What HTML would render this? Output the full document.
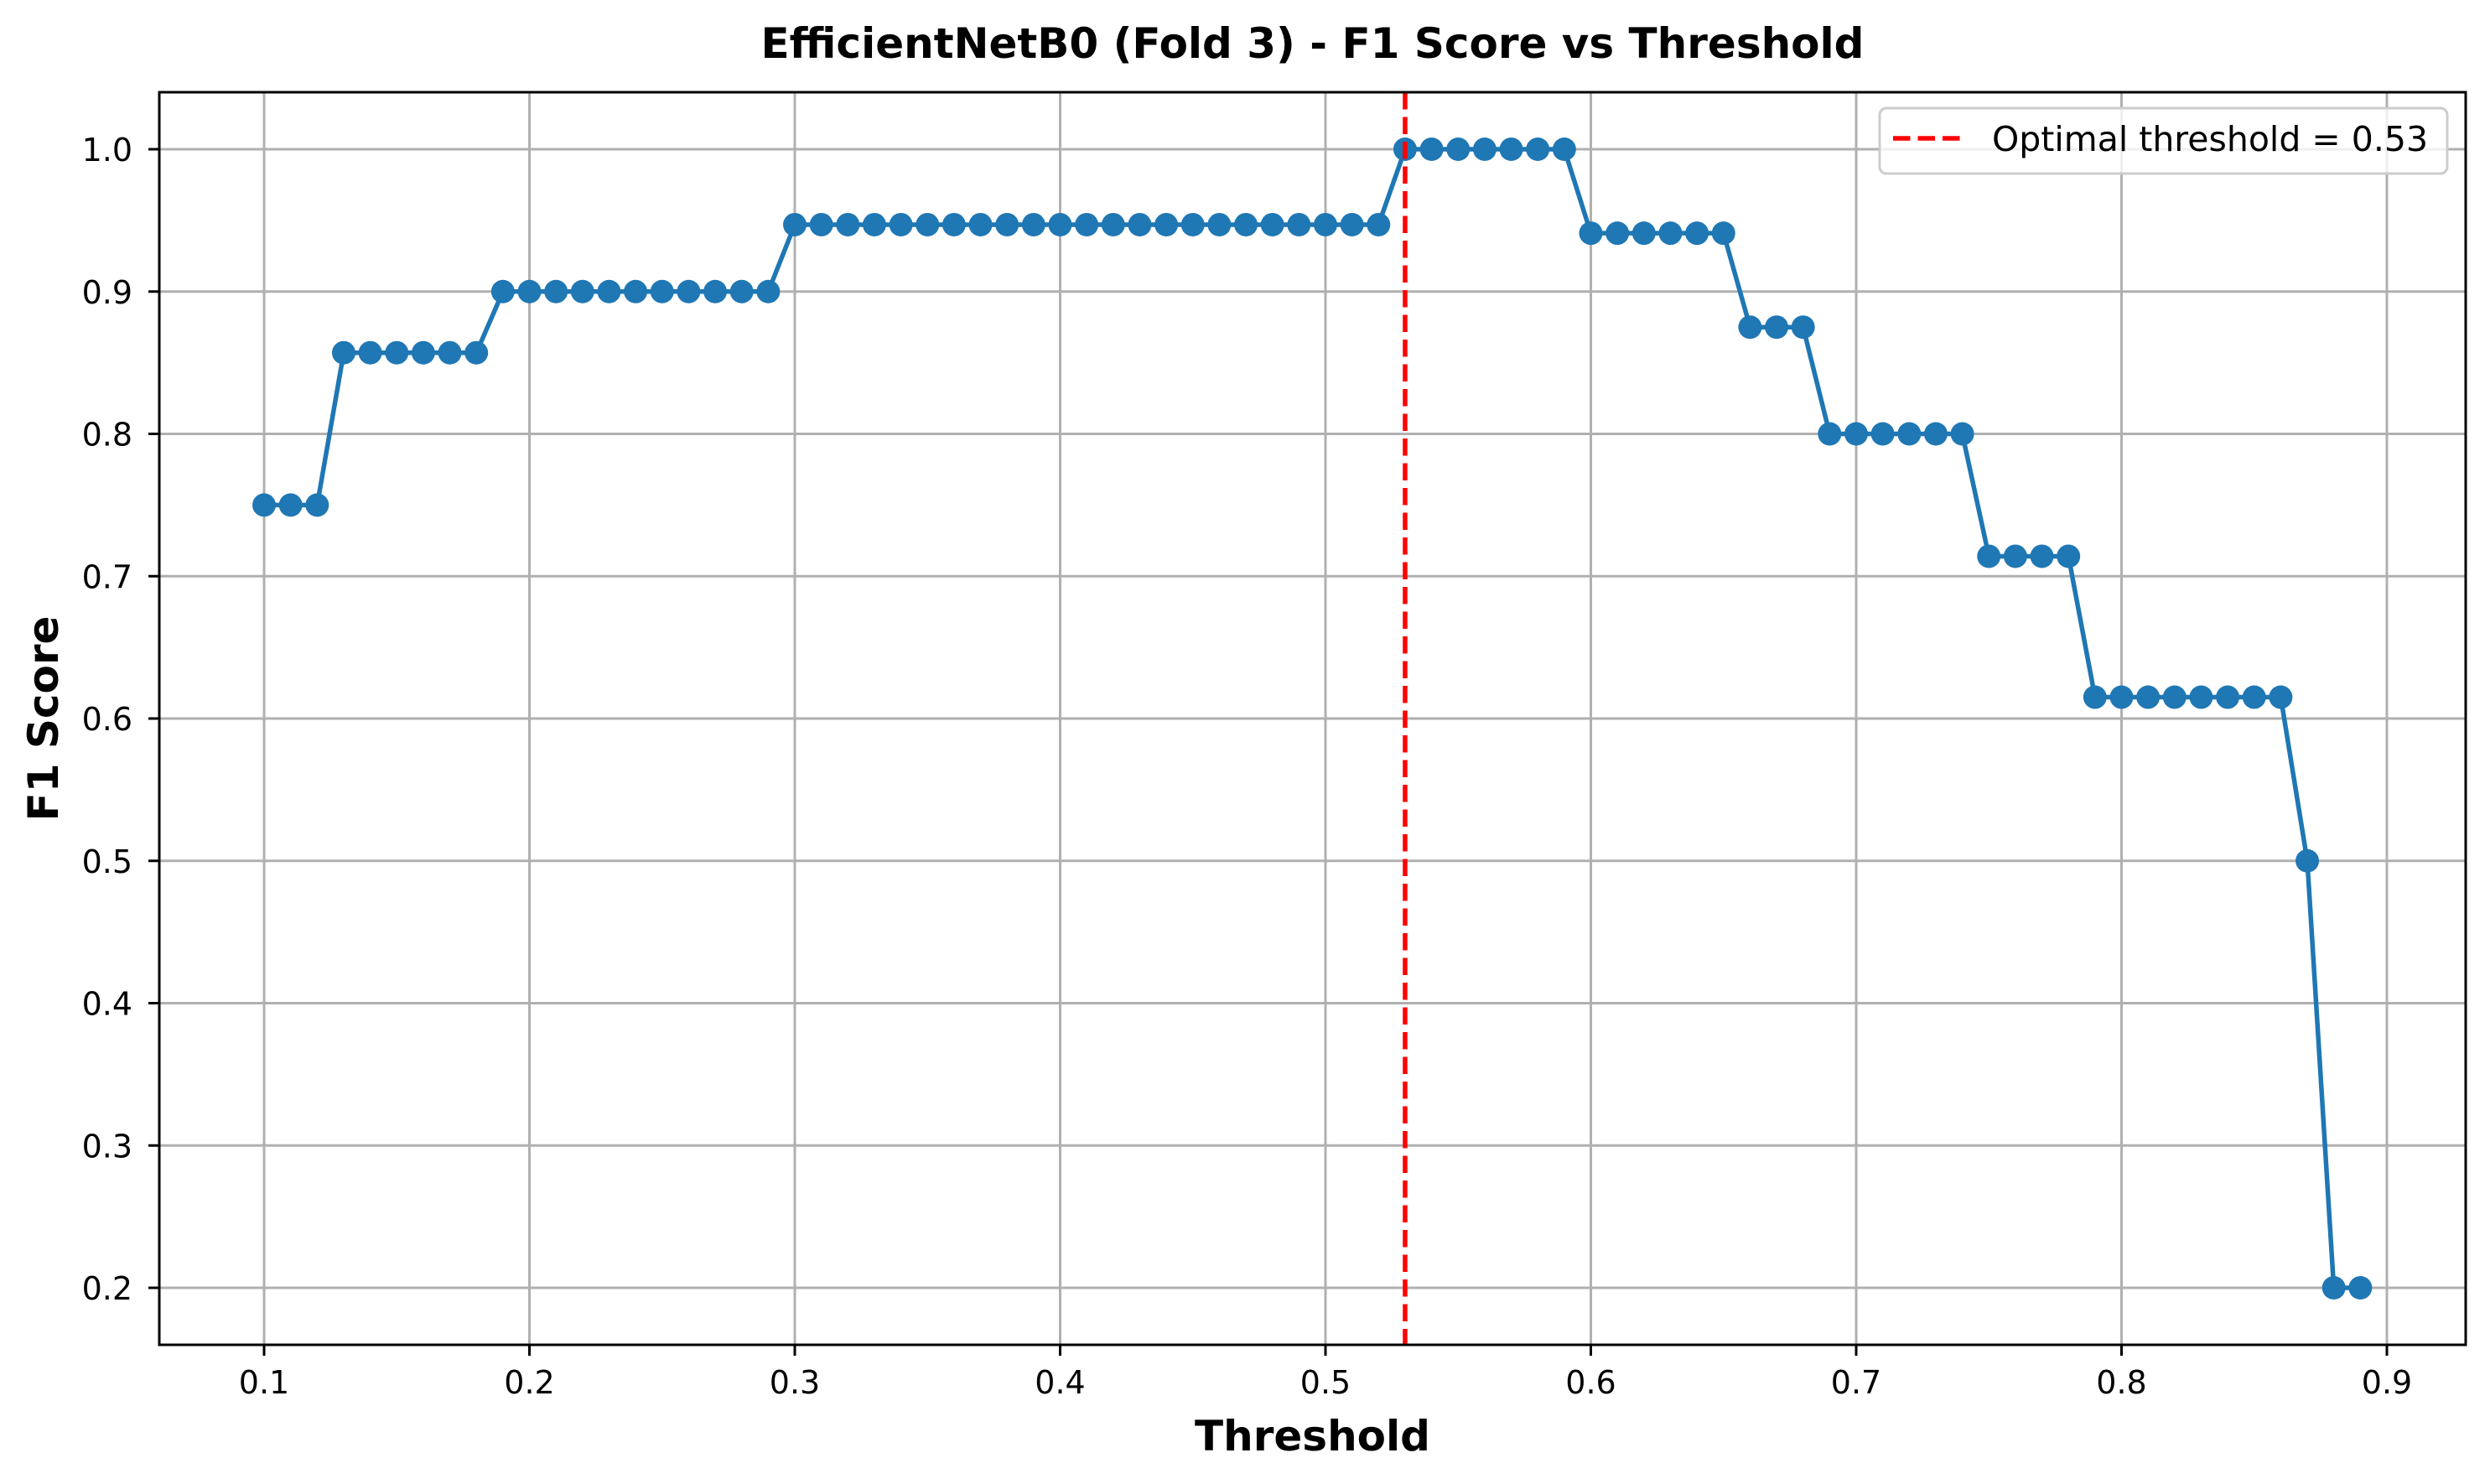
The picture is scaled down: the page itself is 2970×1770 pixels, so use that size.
<!DOCTYPE html>
<html><head><meta charset="utf-8"><style>body{margin:0;background:#fff}svg{display:block;font-family:"DejaVu Sans","Liberation Sans",sans-serif}</style></head>
<body>
<svg id="chart" width="2970" height="1770" xmlns="http://www.w3.org/2000/svg">
<rect width="2970" height="1770" fill="#fff"/>
<g id="grid"></g><g id="series"></g><g id="axes"></g>
</svg>
<script>
const thresholds=[0.10,0.11,0.12,0.13,0.14,0.15,0.16,0.17,0.18,0.19,0.20,0.21,0.22,0.23,0.24,0.25,0.26,0.27,0.28,0.29,0.30,0.31,0.32,0.33,0.34,0.35,0.36,0.37,0.38,0.39,0.40,0.41,0.42,0.43,0.44,0.45,0.46,0.47,0.48,0.49,0.50,0.51,0.52,0.53,0.54,0.55,0.56,0.57,0.58,0.59,0.60,0.61,0.62,0.63,0.64,0.65,0.66,0.67,0.68,0.69,0.70,0.71,0.72,0.73,0.74,0.75,0.76,0.77,0.78,0.79,0.80,0.81,0.82,0.83,0.84,0.85,0.86,0.87,0.88,0.89];
const f1Scores=[0.75,0.75,0.75,0.857,0.857,0.857,0.857,0.857,0.857,0.9,0.9,0.9,0.9,0.9,0.9,0.9,0.9,0.9,0.9,0.9,0.947,0.947,0.947,0.947,0.947,0.947,0.947,0.947,0.947,0.947,0.947,0.947,0.947,0.947,0.947,0.947,0.947,0.947,0.947,0.947,0.947,0.947,0.947,1.0,1.0,1.0,1.0,1.0,1.0,1.0,0.941,0.941,0.941,0.941,0.941,0.941,0.875,0.875,0.875,0.8,0.8,0.8,0.8,0.8,0.8,0.714,0.714,0.714,0.714,0.615,0.615,0.615,0.615,0.615,0.615,0.615,0.615,0.5,0.2,0.2];
const optimalThreshold=0.53;
const xTicks=[0.1,0.2,0.3,0.4,0.5,0.6,0.7,0.8,0.9];
const yTicks=[0.2,0.3,0.4,0.5,0.6,0.7,0.8,0.9,1.0];
const L=190,R=2941,T=110,B=1604;
const X=v=>315+(v-0.1)*(2847-315)/0.8;
const Y=v=>178+(1.0-v)*(1536-178)/0.8;
const NS='http://www.w3.org/2000/svg';
function mk(tag,parent,attrs,text){const e=document.createElementNS(NS,tag);for(const k in attrs)e.setAttribute(k,attrs[k]);if(text!==undefined)e.textContent=text;document.getElementById(parent).appendChild(e);return e;}
xTicks.forEach(t=>{
 const g=mk('line','grid',{x1:X(t),x2:X(t),y1:T,y2:B,stroke:'#b0b0b0','stroke-width':3});
 
 
 const tk=mk('line','axes',{x1:X(t),x2:X(t),y1:B,y2:B+13,stroke:'#000','stroke-width':3});
 
 
 const lb=mk('text','axes',{x:X(t),y:1662,'font-size':38,'text-anchor':'middle'},t.toFixed(1));
 
 
});
yTicks.forEach(t=>{
 const g=mk('line','grid',{x1:L,x2:R,y1:Y(t),y2:Y(t),stroke:'#b0b0b0','stroke-width':3});
 
 
 const tk=mk('line','axes',{x1:L-13,x2:L,y1:Y(t),y2:Y(t),stroke:'#000','stroke-width':3});
 
 
 const lb=mk('text','axes',{x:158,y:Y(t)+14,'font-size':38,'text-anchor':'end'},t.toFixed(1));
 
 
});
const pts=thresholds.map((t,i)=>X(t)+','+Y(f1Scores[i])).join(' ');
const line=mk('polyline','series',{points:pts,fill:'none',stroke:'#1f77b4','stroke-width':5.5});


thresholds.forEach((t,i)=>{
 const c=mk('circle','series',{cx:X(t),cy:Y(f1Scores[i]),r:14,fill:'#1f77b4'});
 
 
});
const vl=mk('line','series',{x1:X(optimalThreshold),x2:X(optimalThreshold),y1:T,y2:B,stroke:'#ff0000','stroke-width':5.5,'stroke-dasharray':'20.5,9'});


const fr=mk('rect','axes',{x:L,y:T,width:R-L,height:B-T,fill:'none',stroke:'#000','stroke-width':3});


const lg=mk('rect','axes',{x:2242,y:129,width:677,height:78,rx:8,fill:'#fff','fill-opacity':0.8,stroke:'#cccccc','stroke-width':3});


const ll=mk('line','axes',{x1:2258,x2:2340,y1:165,y2:165,stroke:'#ff0000','stroke-width':5.5,'stroke-dasharray':'20.5,9'});


const lt=mk('text','axes',{x:2376,y:180,'font-size':41},'Optimal threshold = 0.53');


const ti=mk('text','axes',{x:(L+R)/2,y:69,'font-size':50,'font-weight':'bold','text-anchor':'middle'},'EfficientNetB0 (Fold 3) - F1 Score vs Threshold');


const xl=mk('text','axes',{x:(L+R)/2,y:1730,'font-size':50,'font-weight':'bold','text-anchor':'middle'},'Threshold');


const yl=mk('text','axes',{x:0,y:0,'font-size':50,'font-weight':'bold','text-anchor':'middle',transform:'translate(69,'+((T+B)/2)+') rotate(-90)'},'F1 Score');


</script>
</body></html>
